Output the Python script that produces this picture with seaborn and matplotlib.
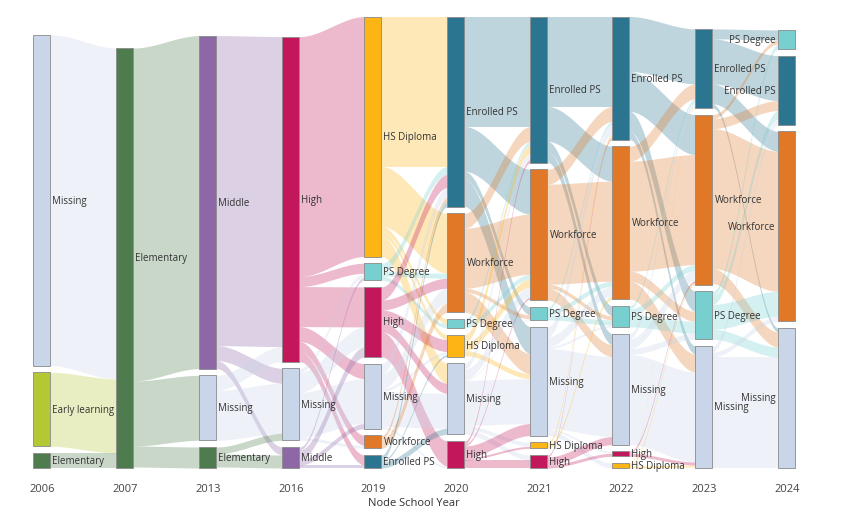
import numpy as np
import seaborn as sns
import matplotlib.pyplot as plt

sns.set_style("white")
plt.rcParams['font.family'] = ['Open Sans', 'DejaVu Sans']

years = ['2006', '2007', '2013', '2016', '2019', '2020', '2021', '2022', '2023', '2024']
col_x = [42, 125, 208, 291, 373, 456, 539, 621, 704, 787]

# nodes per year, top to bottom
nodes = [
    ['Missing', 'Early learning', 'Elementary'],
    ['Elementary'],
    ['Middle', 'Missing', 'Elementary'],
    ['High', 'Missing', 'Middle'],
    ['HS Diploma', 'PS Degree', 'High', 'Missing', 'Workforce', 'Enrolled PS'],
    ['Enrolled PS', 'Workforce', 'PS Degree', 'HS Diploma', 'Missing', 'High'],
    ['Enrolled PS', 'Workforce', 'PS Degree', 'Missing', 'HS Diploma', 'High'],
    ['Enrolled PS', 'Workforce', 'PS Degree', 'Missing', 'High', 'HS Diploma'],
    ['Enrolled PS', 'Workforce', 'PS Degree', 'Missing'],
    ['PS Degree', 'Enrolled PS', 'Workforce', 'Missing'],
]

# links per transition: (source, target, value)
links = [
    [('Missing', 'Elementary', 331), ('Early learning', 'Elementary', 74), ('Elementary', 'Elementary', 15)],
    [('Elementary', 'Middle', 333), ('Elementary', 'Missing', 65), ('Elementary', 'Elementary', 21)],
    [('Middle', 'High', 310), ('Middle', 'Missing', 15), ('Middle', 'Middle', 8),
     ('Missing', 'High', 15), ('Missing', 'Missing', 50),
     ('Elementary', 'Missing', 7), ('Elementary', 'Middle', 13)],
    [('High', 'HS Diploma', 240), ('High', 'PS Degree', 10), ('High', 'High', 40), ('High', 'Missing', 15),
     ('High', 'Workforce', 10), ('High', 'Enrolled PS', 10),
     ('Missing', 'Missing', 45), ('Missing', 'High', 20), ('Missing', 'PS Degree', 4), ('Missing', 'Workforce', 3),
     ('Middle', 'High', 10), ('Middle', 'Missing', 5), ('Middle', 'Enrolled PS', 3), ('Middle', 'PS Degree', 3)],
    [('HS Diploma', 'Enrolled PS', 150), ('HS Diploma', 'Workforce', 60), ('HS Diploma', 'PS Degree', 5),
     ('HS Diploma', 'HS Diploma', 5), ('HS Diploma', 'Missing', 20),
     ('PS Degree', 'Enrolled PS', 8), ('PS Degree', 'Workforce', 5), ('PS Degree', 'PS Degree', 4),
     ('High', 'Workforce', 10), ('High', 'HS Diploma', 12), ('High', 'Missing', 10), ('High', 'High', 25),
     ('High', 'Enrolled PS', 13),
     ('Missing', 'Missing', 35), ('Missing', 'Workforce', 15), ('Missing', 'Enrolled PS', 10),
     ('Missing', 'HS Diploma', 3), ('Missing', 'High', 2),
     ('Workforce', 'Workforce', 9), ('Workforce', 'Enrolled PS', 4),
     ('Enrolled PS', 'Enrolled PS', 5), ('Enrolled PS', 'HS Diploma', 2), ('Enrolled PS', 'Missing', 6)],
    [('Enrolled PS', 'Enrolled PS', 110), ('Enrolled PS', 'Workforce', 45), ('Enrolled PS', 'PS Degree', 8),
     ('Enrolled PS', 'Missing', 27),
     ('Workforce', 'Workforce', 60), ('Workforce', 'Enrolled PS', 15), ('Workforce', 'Missing', 20),
     ('Workforce', 'PS Degree', 4),
     ('PS Degree', 'Workforce', 5), ('PS Degree', 'Enrolled PS', 4),
     ('HS Diploma', 'Enrolled PS', 8), ('HS Diploma', 'Workforce', 8), ('HS Diploma', 'Missing', 5),
     ('Missing', 'Missing', 45), ('Missing', 'Workforce', 10), ('Missing', 'Enrolled PS', 6),
     ('Missing', 'PS Degree', 1), ('Missing', 'HS Diploma', 4), ('Missing', 'High', 5),
     ('High', 'High', 8), ('High', 'Missing', 12), ('High', 'HS Diploma', 2), ('High', 'Enrolled PS', 3),
     ('High', 'Workforce', 2)],
    [('Enrolled PS', 'Enrolled PS', 90), ('Enrolled PS', 'Workforce', 35), ('Enrolled PS', 'PS Degree', 10),
     ('Enrolled PS', 'Missing', 11),
     ('Workforce', 'Workforce', 100), ('Workforce', 'Enrolled PS', 15), ('Workforce', 'Missing', 12),
     ('Workforce', 'PS Degree', 4),
     ('PS Degree', 'PS Degree', 5), ('PS Degree', 'Workforce', 5), ('PS Degree', 'Enrolled PS', 3),
     ('Missing', 'Missing', 80), ('Missing', 'Workforce', 10), ('Missing', 'Enrolled PS', 10),
     ('Missing', 'PS Degree', 2), ('Missing', 'High', 2), ('Missing', 'HS Diploma', 5),
     ('HS Diploma', 'Workforce', 3), ('HS Diploma', 'Enrolled PS', 3),
     ('High', 'Missing', 8), ('High', 'High', 3), ('High', 'Enrolled PS', 2)],
    [('Enrolled PS', 'Enrolled PS', 55), ('Enrolled PS', 'Workforce', 40), ('Enrolled PS', 'PS Degree', 20),
     ('Enrolled PS', 'Missing', 8),
     ('Workforce', 'Workforce', 110), ('Workforce', 'Enrolled PS', 15), ('Workforce', 'PS Degree', 10),
     ('Workforce', 'Missing', 18),
     ('PS Degree', 'PS Degree', 12), ('PS Degree', 'Workforce', 6), ('PS Degree', 'Enrolled PS', 3),
     ('Missing', 'Missing', 90), ('Missing', 'Workforce', 10), ('Missing', 'Enrolled PS', 5),
     ('Missing', 'PS Degree', 6),
     ('High', 'Missing', 3), ('High', 'Workforce', 2),
     ('HS Diploma', 'Workforce', 2), ('HS Diploma', 'Enrolled PS', 1), ('HS Diploma', 'Missing', 2)],
    [('Enrolled PS', 'Enrolled PS', 45), ('Enrolled PS', 'Workforce', 20), ('Enrolled PS', 'PS Degree', 10),
     ('Enrolled PS', 'Missing', 4),
     ('Workforce', 'Workforce', 140), ('Workforce', 'Enrolled PS', 10), ('Workforce', 'Missing', 15),
     ('Workforce', 'PS Degree', 4),
     ('PS Degree', 'Workforce', 25), ('PS Degree', 'Enrolled PS', 8), ('PS Degree', 'PS Degree', 5),
     ('PS Degree', 'Missing', 10),
     ('Missing', 'Missing', 111), ('Missing', 'Enrolled PS', 6), ('Missing', 'Workforce', 5)],
]

colors = {
    'Missing': '#c9d5e8', 'Early learning': '#b3c832', 'Elementary': '#4e7c4e',
    'Middle': '#8d67a6', 'High': '#c2185b', 'HS Diploma': '#fdb515',
    'PS Degree': '#77cfcf', 'Workforce': '#e07828', 'Enrolled PS': '#2b7590',
}

node_w = 17
gap = 6.7
bottom = 469

# node sizes from flows
sizes = []
for c, col in enumerate(nodes):
    s = {}
    for n in col:
        vin = sum(v for a, b, v in links[c - 1] if b == n) if c > 0 else 0
        vout = sum(v for a, b, v in links[c] if a == n) if c < len(links) else 0
        s[n] = max(vin, vout)
    sizes.append(s)

# stack nodes from the bottom up
pos = []
for c, col in enumerate(nodes):
    p = {}
    y = bottom
    for n in reversed(col):
        p[n] = (y - sizes[c][n], y)
        y -= sizes[c][n] + gap
    pos.append(p)

fig = plt.figure(figsize=(8.5, 5.1), dpi=100)
ax = fig.add_axes([0, 0, 1, 1])
ax.set_xlim(0, 850)
ax.set_ylim(510, 0)
ax.axis('off')

# links
for c, lk in enumerate(links):
    src_order = {n: i for i, n in enumerate(nodes[c])}
    tgt_order = {n: i for i, n in enumerate(nodes[c + 1])}
    src_off = {n: pos[c][n][0] for n in nodes[c]}
    tgt_off = {n: pos[c + 1][n][0] for n in nodes[c + 1]}
    src_y, tgt_y = {}, {}
    for l in sorted(lk, key=lambda l: tgt_order[l[1]]):
        src_y[l] = src_off[l[0]]
        src_off[l[0]] += l[2]
    for l in sorted(lk, key=lambda l: src_order[l[0]]):
        tgt_y[l] = tgt_off[l[1]]
        tgt_off[l[1]] += l[2]
    x0 = col_x[c] + node_w / 2
    x1 = col_x[c + 1] - node_w / 2
    xs = np.linspace(x0, x1, 60)
    u = (xs - x0) / (x1 - x0)
    s = 3 * u ** 2 - 2 * u ** 3
    for l in lk:
        top = src_y[l] + (tgt_y[l] - src_y[l]) * s
        ax.fill_between(xs, top, top + l[2], color=colors[l[0]], alpha=0.3, lw=0)

# nodes
for c, col in enumerate(nodes):
    for n in col:
        y0, y1 = pos[c][n]
        ax.add_patch(plt.Rectangle((col_x[c] - node_w / 2, y0), node_w, y1 - y0,
                                   facecolor=colors[n], edgecolor='#8a8a8a', lw=0.6, zorder=3))
        if c == len(nodes) - 1:
            ax.text(col_x[c] - node_w / 2 - 3, (y0 + y1) / 2, n, ha='right', va='center',
                    fontsize=7, color='#333333', zorder=4)
        else:
            ax.text(col_x[c] + node_w / 2 + 2, (y0 + y1) / 2, n, ha='left', va='center',
                    fontsize=7, color='#333333', zorder=4)

for x, yr in zip(col_x, years):
    ax.text(x, 490, yr, ha='center', va='center', fontsize=8, color='#444444')
ax.text(414, 504, 'Node School Year', ha='center', va='center', fontsize=8, color='#333333')

fig.savefig('out.png', dpi=100)
